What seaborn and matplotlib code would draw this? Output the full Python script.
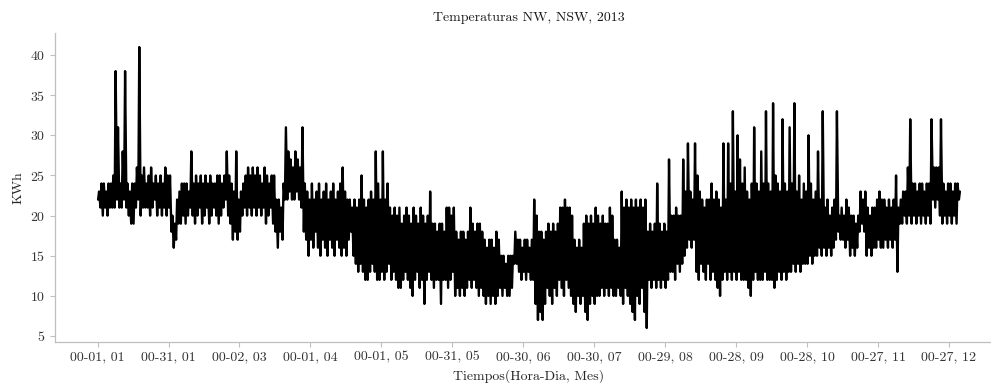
import matplotlib
matplotlib.use("Agg")
import matplotlib.pyplot as plt
import pandas as pd
import seaborn as sns

# Daily low (early morning) and daily high (afternoon) readings, 2013
jan_lo = [22, 21, 20, 21, 20, 21, 21, 21, 22, 21, 21, 22, 21, 20, 19, 19, 21, 22, 20, 21,
          21, 21, 20, 21, 22, 20, 21, 20, 21, 20, 21]
jan_hi = [23, 24, 24, 23, 24, 24, 25, 38, 31, 24, 28, 38, 24, 23, 24, 24, 26, 41, 25, 26,
          24, 25, 26, 24, 25, 24, 25, 24, 26, 25, 25]
feb_lo = [18, 16, 17, 19, 19, 20, 19, 20, 21, 20, 19, 20, 21, 19, 20, 21, 19, 20, 21, 20,
          19, 20, 21, 22, 20, 19, 17, 18]
feb_hi = [20, 19, 22, 23, 24, 24, 24, 23, 28, 24, 25, 24, 25, 24, 25, 24, 25, 24, 24, 25,
          25, 24, 25, 28, 25, 24, 23, 28]
mar_lo = [17, 18, 20, 21, 20, 21, 20, 21, 20, 21, 20, 21, 19, 20, 21, 19, 18, 16, 18, 17,
          22, 22, 23, 22, 22, 23, 22, 21, 18, 17, 15]
mar_hi = [22, 23, 24, 25, 26, 25, 26, 25, 26, 25, 24, 26, 25, 24, 25, 25, 22, 22, 21, 24,
          31, 28, 27, 26, 28, 27, 26, 31, 24, 23, 22]
apr_lo = [17, 16, 18, 16, 15, 17, 16, 15, 17, 16, 15, 17, 16, 15, 16, 15, 17, 18, 15, 14,
          13, 14, 13, 12, 12, 13, 14, 13, 12, 12]
apr_hi = [24, 22, 23, 24, 22, 23, 24, 22, 23, 24, 22, 23, 24, 26, 23, 22, 22, 21, 22, 21,
          22, 25, 22, 21, 22, 23, 22, 28, 24, 22]
may_lo = [13, 12, 13, 14, 12, 13, 12, 11, 11, 12, 13, 12, 11, 10, 12, 13, 11, 12, 9, 12,
          13, 12, 11, 12, 12, 9, 12, 12, 11, 12, 13]
may_hi = [28, 22, 24, 21, 20, 21, 20, 21, 19, 20, 21, 20, 19, 21, 20, 19, 21, 20, 19, 20,
          23, 19, 19, 18, 19, 19, 18, 21, 21, 20, 21]
jun_lo = [10, 11, 10, 11, 10, 11, 12, 11, 12, 11, 10, 11, 10, 9, 10, 9, 10, 9, 10, 11,
          10, 11, 10, 10, 11, 14, 14, 13, 12, 13]
jun_hi = [18, 17, 18, 18, 17, 18, 21, 19, 18, 19, 19, 18, 17, 16, 17, 17, 16, 18, 17, 15,
          15, 14, 15, 15, 15, 18, 17, 17, 16, 17]
jul_lo = [12, 13, 12, 12, 9, 7, 8, 7, 9, 11, 10, 9, 11, 10, 12, 11, 10, 12, 11, 10,
          9, 8, 10, 9, 10, 8, 7, 9, 10, 9, 10]
jul_hi = [17, 16, 17, 22, 20, 18, 18, 17, 18, 19, 18, 19, 18, 19, 21, 21, 22, 21, 21, 20,
          17, 16, 17, 16, 19, 20, 19, 20, 19, 21, 20]
aug_lo = [10, 11, 10, 11, 10, 11, 10, 10, 11, 10, 9, 11, 10, 9, 8, 7, 10, 9, 11, 8,
          6, 12, 11, 12, 11, 12, 11, 12, 11, 12, 13]
aug_hi = [19, 20, 19, 19, 21, 20, 17, 17, 16, 23, 21, 22, 21, 22, 21, 22, 21, 22, 21, 22,
          18, 19, 18, 19, 24, 19, 18, 19, 18, 27, 20]
sep_lo = [13, 12, 14, 13, 14, 15, 16, 17, 16, 17, 13, 12, 14, 13, 12, 14, 12, 13, 12, 11,
          10, 12, 13, 12, 13, 12, 13, 12, 13, 12]
sep_hi = [20, 21, 20, 20, 27, 23, 29, 23, 22, 29, 25, 23, 22, 21, 22, 22, 24, 22, 23, 22,
          21, 29, 22, 29, 24, 33, 23, 30, 27, 24]
oct_lo = [12, 12, 11, 10, 12, 13, 12, 12, 12, 13, 12, 12, 12, 11, 12, 13, 12, 13, 12, 13,
          13, 14, 13, 14, 13, 14, 14, 14, 15, 14, 15]
oct_hi = [26, 23, 22, 24, 31, 24, 23, 28, 24, 33, 24, 23, 34, 25, 24, 23, 32, 24, 23, 31,
          24, 34, 23, 25, 22, 24, 23, 30, 24, 22, 23]
nov_lo = [15, 16, 15, 16, 15, 16, 15, 16, 17, 18, 17, 17, 16, 17, 15, 16, 15, 16, 18, 19,
          18, 15, 16, 15, 16, 16, 17, 16, 16, 17]
nov_hi = [28, 22, 33, 21, 22, 20, 21, 22, 33, 20, 21, 20, 22, 21, 20, 20, 19, 20, 23, 22,
          23, 21, 20, 21, 21, 22, 23, 22, 22, 21]
dec_lo = [16, 17, 16, 17, 13, 19, 19, 20, 19, 20, 19, 20, 19, 20, 19, 20, 19, 20, 19, 22,
          21, 22, 20, 19, 20, 19, 20, 19, 20, 19, 22]
dec_hi = [22, 21, 22, 25, 21, 22, 23, 23, 26, 32, 24, 24, 23, 24, 24, 23, 24, 24, 32, 26,
          26, 26, 32, 24, 23, 24, 24, 23, 24, 24, 23]

tick_dates = ["2013-01-01", "2013-01-31", "2013-03-02", "2013-04-01", "2013-05-01",
              "2013-05-31", "2013-06-30", "2013-07-30", "2013-08-29", "2013-09-28",
              "2013-10-28", "2013-11-27", "2013-12-27"]
tick_labels = ["00-01, 01", "00-31, 01", "00-02, 03", "00-01, 04", "00-01, 05",
               "00-31, 05", "00-30, 06", "00-30, 07", "00-29, 08", "00-28, 09",
               "00-28, 10", "00-27, 11", "00-27, 12"]
y_ticks = [5, 10, 15, 20, 25, 30, 35, 40]

sns.set_theme(style="ticks", rc={
    "axes.edgecolor": "0.75",
    "xtick.color": "0.75",
    "ytick.color": "0.75",
    "xtick.labelcolor": "0.2",
    "ytick.labelcolor": "0.2",
    "axes.labelcolor": "0.15",
    "text.color": "0.1",
    "xtick.major.size": 3.5,
    "ytick.major.size": 3.5,
    "xtick.major.width": 0.8,
    "ytick.major.width": 0.8,
    "axes.linewidth": 0.9,
})
plt.rcParams["font.family"] = ["cmr10", "DejaVu Serif"]
plt.rcParams["axes.formatter.use_mathtext"] = True
plt.rcParams["mathtext.fontset"] = "cm"
plt.rcParams["font.size"] = 10

lows = (jan_lo + feb_lo + mar_lo + apr_lo + may_lo + jun_lo + jul_lo + aug_lo
        + sep_lo + oct_lo + nov_lo + dec_lo)
highs = (jan_hi + feb_hi + mar_hi + apr_hi + may_hi + jun_hi + jul_hi + aug_hi
         + sep_hi + oct_hi + nov_hi + dec_hi)
days = pd.date_range("2013-01-01", periods=len(lows), freq="D")

df = pd.concat([
    pd.DataFrame({"fecha": days + pd.Timedelta(hours=5), "temp": lows}),
    pd.DataFrame({"fecha": days + pd.Timedelta(hours=15), "temp": highs}),
]).sort_values("fecha").reset_index(drop=True)

fig = plt.figure(figsize=(9.91, 3.83), dpi=100)
ax = fig.add_axes([0.0555, 0.107, 0.9566, 0.8068])
sns.lineplot(data=df, x="fecha", y="temp", color="black", linewidth=1.7, ax=ax)

ax.set_xticks(pd.to_datetime(tick_dates))
ax.set_xticklabels(tick_labels, fontsize=10)
ax.set_yticks(y_ticks)
ax.tick_params(axis="y", labelsize=10)
ax.set_title("Temperaturas NW, NSW, 2013", fontsize=10, pad=9)
ax.set_xlabel("Tiempos(Hora-Dia, Mes)", fontsize=10, labelpad=4)
ax.set_ylabel("KWh", fontsize=10)
sns.despine(ax=ax)

fig.savefig("out.png", dpi=100)
